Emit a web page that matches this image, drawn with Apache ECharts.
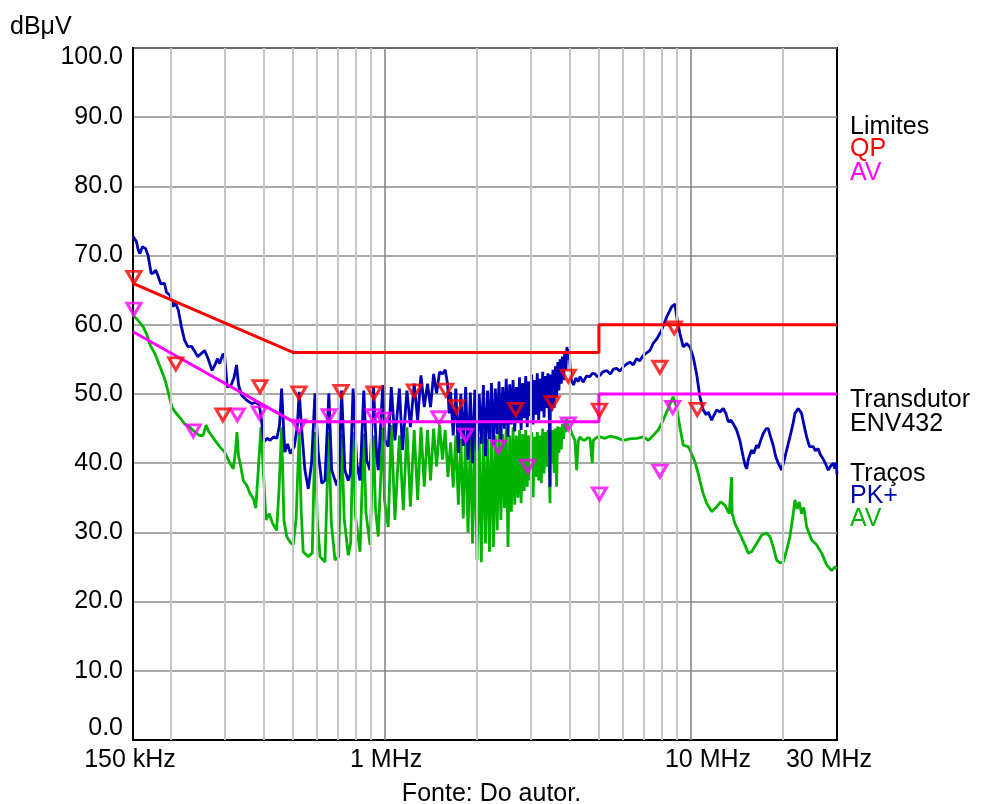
<!DOCTYPE html>
<html>
<head>
<meta charset="utf-8">
<script src="https://cdn.jsdelivr.net/npm/echarts@6/dist/echarts.min.js"></script>
<style>
  html, body { margin: 0; padding: 0; background: #fff; }
  #chart { width: 983px; height: 804px; }
</style>
</head>
<body>
<div id="chart"></div>
<script>
// Conducted emission scan, frequency in MHz, level in dBµV.

const xTickValues = [0.15, 1, 10, 30];
const xTickLabels = ['150 kHz', '1 MHz', '10 MHz', '30 MHz'];
const minorGridFreqs = [0.2, 0.3, 0.4, 0.5, 0.6, 0.7, 0.8, 0.9, 2, 3, 4, 5, 6, 7, 8, 9, 20];
const majorGridFreqs = [1, 10];

// Limit lines
const qpLimit = [[0.15, 66], [0.5, 56], [5, 56], [5, 60], [30, 60]];
const avLimit = [[0.15, 59], [0.5, 46], [5, 46], [5, 50], [30, 50]];

// Final measurement results
const qpMarkers = [
  [0.151, 66.0], [0.207, 53.5], [0.295, 46.1], [0.390, 50.2], [0.523, 49.3],
  [0.718, 49.5], [0.920, 49.3], [1.246, 49.6], [1.578, 49.7], [1.714, 47.3],
  [2.672, 46.9], [3.518, 47.9], [3.970, 51.7], [5.02, 46.8], [7.91, 53.0],
  [8.81, 58.7], [10.48, 46.9]
];
const avMarkers = [
  [0.151, 61.4], [0.236, 43.8], [0.329, 46.1], [0.388, 46.4], [0.523, 44.5],
  [0.656, 46.0], [0.915, 46.0], [0.987, 45.5], [1.500, 45.7], [1.834, 43.2],
  [2.344, 41.5], [2.924, 38.7], [3.970, 44.8], [5.02, 34.7], [7.91, 38.0],
  [8.71, 47.2]
];

// Peak detector trace
const pkTrace = [
  [0.150, 72.8], [0.152, 72.4], [0.154, 72.0], [0.156, 70.8], [0.158, 70.3],
  [0.161, 71.3], [0.163, 71.4], [0.165, 71.0], [0.168, 70.0], [0.172, 67.4],
  [0.175, 67.5], [0.178, 67.9], [0.181, 67.1], [0.185, 65.9], [0.190, 66.0],
  [0.193, 64.7], [0.198, 64.3], [0.203, 62.6], [0.206, 63.3], [0.211, 62.1],
  [0.216, 59.7], [0.221, 57.8], [0.227, 56.8], [0.233, 56.9], [0.239, 56.1],
  [0.244, 55.4], [0.250, 55.8], [0.257, 56.3], [0.264, 55.1], [0.272, 53.4],
  [0.278, 54.2], [0.283, 55.1], [0.288, 54.4], [0.295, 55.8], [0.299, 55.4],
  [0.305, 51.0], [0.314, 51.3], [0.321, 52.4], [0.327, 54.2], [0.332, 51.3],
  [0.340, 49.8], [0.353, 49.1], [0.367, 48.6], [0.377, 48.8], [0.387, 48.5],
  [0.392, 47.2], [0.402, 43.1], [0.412, 43.6], [0.421, 43.3], [0.432, 43.8],
  [0.443, 43.6], [0.452, 45.5], [0.459, 50.8], [0.466, 45.0], [0.470, 41.6],
  [0.480, 42.8], [0.490, 41.4], [0.505, 42.4], [0.517, 45.5], [0.524, 50.3],
  [0.534, 44.8], [0.547, 39.0], [0.561, 36.3], [0.575, 40.0], [0.590, 50.1],
  [0.605, 41.4], [0.621, 37.1], [0.636, 37.5], [0.655, 50.1], [0.669, 39.0],
  [0.695, 36.8], [0.706, 38.0], [0.721, 50.5], [0.739, 39.0], [0.758, 37.5],
  [0.770, 38.5], [0.786, 50.8], [0.808, 40.0], [0.828, 37.5], [0.852, 50.5],
  [0.871, 40.4], [0.893, 39.0], [0.917, 51.0], [0.939, 40.9], [0.950, 39.0],
  [0.983, 51.3], [1.000, 43.3], [1.024, 42.4], [1.048, 51.0], [1.077, 43.3],
  [1.114, 50.8], [1.140, 41.9], [1.179, 50.5], [1.210, 45.2], [1.245, 51.5],
  [1.278, 46.2], [1.310, 52.7], [1.343, 48.1], [1.376, 51.5], [1.408, 48.1],
  [1.441, 52.9], [1.474, 50.1], [1.507, 53.2], [1.540, 52.9], [1.572, 53.5],
  [1.600, 51.5], [1.620, 47.2],
  [1.638, 50.3], [1.670, 44.0], [1.703, 50.8], [1.736, 41.5], [1.769, 50.0],
  [1.801, 42.5], [1.834, 51.0], [1.867, 40.5], [1.900, 50.2], [1.932, 40.0],
  [1.965, 50.6], [1.998, 41.8], [2.031, 50.0], [2.063, 42.8], [2.096, 51.3],
  [2.129, 41.0], [2.162, 50.5], [2.194, 43.5], [2.227, 51.6], [2.260, 42.6],
  [2.293, 50.8], [2.325, 44.2], [2.358, 51.8], [2.391, 43.4], [2.424, 51.0],
  [2.456, 45.0], [2.489, 52.2], [2.522, 43.8], [2.555, 51.4], [2.587, 45.6],
  [2.620, 52.0], [2.653, 44.6], [2.686, 51.0], [2.718, 46.0], [2.751, 52.4],
  [2.784, 44.8], [2.817, 51.6], [2.849, 46.5], [2.882, 52.6], [2.915, 45.2],
  [2.948, 51.8], [2.980, 46.8], [3.013, 52.8], [3.046, 45.6], [3.079, 52.0],
  [3.111, 47.0], [3.144, 53.0], [3.177, 46.2], [3.210, 52.2], [3.242, 47.5],
  [3.275, 53.2], [3.308, 46.6], [3.341, 52.6], [3.373, 48.0], [3.406, 53.0],
  [3.440, 47.0], [3.459, 36.6], [3.472, 52.8], [3.504, 47.5], [3.537, 53.5],
  [3.570, 48.0], [3.603, 54.0], [3.635, 49.5], [3.668, 54.6], [3.700, 50.5],
  [3.734, 55.0], [3.766, 51.5], [3.799, 55.4], [3.832, 52.0], [3.865, 56.0],
  [3.900, 53.5], [3.930, 56.8], [3.960, 55.0], [3.995, 56.5], [4.030, 53.5],
  [4.060, 52.0], [4.130, 51.3], [4.200, 52.3], [4.280, 51.8], [4.335, 52.5],
  [4.444, 51.7], [4.550, 52.6], [4.674, 52.5], [4.760, 53.0], [4.853, 52.9],
  [4.950, 52.5], [5.04, 52.7], [5.15, 53.2], [5.30, 53.4], [5.45, 52.9],
  [5.58, 53.6], [5.71, 53.7], [5.85, 53.3], [6.00, 53.9], [6.15, 54.3],
  [6.31, 54.6], [6.47, 54.2], [6.64, 55.1], [6.80, 54.8], [6.98, 55.6],
  [7.15, 55.9], [7.34, 56.3], [7.52, 57.3], [7.74, 58.0], [8.01, 59.2],
  [8.32, 61.1], [8.64, 62.6], [8.86, 63.0], [9.02, 60.6], [9.20, 58.7],
  [9.43, 56.8], [9.67, 57.3], [9.92, 56.8], [10.17, 55.3], [10.43, 52.9],
  [10.69, 49.6], [10.96, 47.7], [11.20, 47.0], [11.38, 47.4], [11.68, 46.2],
  [11.90, 47.0], [12.13, 47.7], [12.45, 47.4], [12.74, 47.9], [13.00, 47.2],
  [13.23, 46.0], [13.50, 46.2], [13.74, 45.7], [14.09, 44.8], [14.44, 43.3],
  [14.81, 40.9], [15.05, 39.6], [15.20, 39.2], [15.40, 40.6], [15.58, 40.4],
  [15.78, 41.9], [16.00, 41.4], [16.38, 42.6], [16.58, 42.2], [16.90, 43.3],
  [17.22, 44.3], [17.60, 45.0], [17.88, 45.0], [18.20, 43.8], [18.56, 42.6],
  [18.90, 41.0], [19.28, 40.0], [19.78, 39.0], [20.28, 40.9], [21.05, 43.8],
  [21.50, 45.5], [21.86, 47.2], [22.41, 47.9], [22.98, 47.2], [23.40, 45.5],
  [23.87, 43.8], [24.40, 42.4], [25.08, 42.4], [25.50, 41.8], [26.04, 42.1],
  [26.50, 41.2], [27.04, 40.6], [27.60, 39.8], [28.08, 39.0], [28.60, 39.6],
  [29.16, 40.0], [29.50, 39.2], [29.80, 40.1], [30.00, 38.4]
];

// Average detector trace
const avTrace = [
  [0.150, 61.4], [0.151, 61.2], [0.156, 60.6], [0.162, 59.7], [0.166, 58.7],
  [0.171, 57.0], [0.177, 55.8], [0.184, 53.9], [0.191, 52.0], [0.196, 50.1],
  [0.201, 48.1], [0.206, 47.4], [0.214, 46.5], [0.221, 45.7], [0.230, 45.2],
  [0.239, 44.5], [0.248, 44.0], [0.254, 44.0], [0.260, 45.5], [0.265, 44.6],
  [0.268, 44.3], [0.278, 43.3], [0.288, 42.4], [0.299, 41.6], [0.311, 40.0],
  [0.319, 39.2], [0.324, 41.5], [0.328, 44.5], [0.332, 41.0], [0.336, 40.0],
  [0.344, 37.5], [0.353, 36.8], [0.362, 35.6], [0.371, 34.9], [0.378, 33.5],
  [0.385, 39.0], [0.393, 45.2], [0.400, 39.0], [0.408, 31.8], [0.418, 32.7],
  [0.429, 31.3], [0.442, 30.3], [0.450, 36.0], [0.459, 45.2], [0.467, 31.8],
  [0.477, 29.4], [0.489, 28.6], [0.501, 28.2], [0.512, 32.0], [0.524, 44.5],
  [0.532, 33.0], [0.540, 27.2], [0.561, 26.5], [0.578, 27.0], [0.590, 44.5],
  [0.600, 32.0], [0.613, 26.5], [0.636, 25.7], [0.655, 44.5], [0.667, 31.5],
  [0.686, 26.0], [0.705, 26.5], [0.721, 44.3], [0.735, 32.0], [0.758, 26.7],
  [0.772, 28.5], [0.786, 44.5], [0.800, 32.5], [0.828, 27.2], [0.852, 44.3],
  [0.866, 32.8], [0.893, 28.2], [0.917, 44.0], [0.930, 33.5], [0.950, 29.4],
  [0.983, 45.2], [0.996, 34.6], [1.024, 30.8], [1.048, 45.5], [1.077, 31.8],
  [1.114, 44.0], [1.147, 33.2], [1.179, 45.2], [1.210, 33.7], [1.245, 44.8],
  [1.278, 34.7], [1.310, 45.2], [1.343, 36.6], [1.376, 44.8], [1.408, 37.5],
  [1.441, 45.0], [1.474, 39.5], [1.507, 45.5], [1.540, 40.5], [1.572, 44.8],
  [1.605, 38.0],
  [1.638, 43.0], [1.670, 36.5], [1.703, 44.0], [1.736, 34.0], [1.769, 43.5],
  [1.801, 32.0], [1.834, 44.2], [1.867, 30.0], [1.900, 43.6], [1.932, 28.4],
  [1.965, 44.5], [1.998, 26.0], [2.031, 43.8], [2.063, 25.7], [2.096, 44.6],
  [2.129, 28.4], [2.162, 43.5], [2.194, 27.2], [2.227, 45.0], [2.260, 27.9],
  [2.293, 44.0], [2.325, 30.3], [2.358, 45.2], [2.391, 31.8], [2.424, 44.2],
  [2.456, 33.5], [2.489, 45.0], [2.522, 27.9], [2.555, 44.0], [2.587, 33.0],
  [2.620, 45.2], [2.653, 34.0], [2.686, 44.0], [2.718, 35.0], [2.751, 44.8],
  [2.784, 34.2], [2.817, 44.2], [2.849, 36.0], [2.882, 44.8], [2.915, 36.6],
  [2.948, 44.0], [2.980, 37.5], [3.013, 44.5], [3.046, 35.1], [3.079, 43.8],
  [3.111, 38.0], [3.144, 44.5], [3.177, 37.5], [3.210, 44.0], [3.242, 37.1],
  [3.275, 45.0], [3.308, 38.5], [3.341, 44.5], [3.373, 39.5], [3.406, 44.8],
  [3.440, 40.5], [3.459, 34.2], [3.472, 44.6], [3.504, 40.0], [3.537, 44.8],
  [3.570, 38.6], [3.603, 45.0], [3.635, 36.6], [3.668, 45.3], [3.700, 41.5],
  [3.734, 45.2], [3.766, 42.0], [3.799, 45.7], [3.832, 43.5], [3.865, 45.6],
  [3.900, 44.5], [3.920, 46.4], [4.000, 45.5], [4.072, 44.3], [4.175, 43.3],
  [4.228, 39.0], [4.280, 43.2], [4.335, 43.8], [4.420, 43.4], [4.501, 43.3],
  [4.590, 43.7], [4.674, 43.6], [4.755, 40.0], [4.790, 43.3], [4.853, 43.3],
  [4.950, 43.8], [5.04, 43.8], [5.23, 43.6], [5.43, 43.9], [5.70, 43.7],
  [6.00, 43.3], [6.30, 43.5], [6.64, 43.6], [7.00, 43.8], [7.25, 43.3],
  [7.52, 44.0], [7.81, 44.8], [8.11, 46.2], [8.42, 47.9], [8.74, 49.6],
  [8.97, 48.1], [9.20, 45.2], [9.43, 42.6], [9.79, 42.4], [9.92, 41.9],
  [10.30, 40.2], [10.56, 38.5], [10.69, 37.5], [10.96, 35.6], [11.25, 34.2],
  [11.68, 33.0], [12.13, 33.7], [12.50, 34.4], [12.91, 33.9], [13.33, 32.7],
  [13.52, 32.6], [13.57, 38.0], [13.62, 32.8], [13.91, 31.3], [14.44, 29.8],
  [15.00, 28.2], [15.38, 27.0], [15.78, 27.2], [16.38, 28.4], [17.01, 29.6],
  [17.57, 29.9], [18.11, 29.4], [18.56, 27.9], [19.05, 26.0], [19.53, 25.6],
  [20.02, 25.7], [20.53, 27.4], [21.05, 29.4], [21.58, 32.7], [21.86, 34.7],
  [22.23, 33.4], [22.58, 34.4], [22.98, 32.7], [23.38, 33.6], [23.87, 30.8],
  [24.79, 28.9], [25.74, 28.2], [26.72, 27.0], [27.75, 25.3], [28.81, 24.5],
  [29.54, 25.0], [30.00, 24.8]
];

const FONT = '"Liberation Sans", Arial, Helvetica, sans-serif';
const FS = 25;
const C_QP = '#ff0000';
const C_AVL = '#ff00ff';
const C_PK = '#0000b4';
const C_AV = '#00b400';

const chart = echarts.init(document.getElementById('chart'), null, { renderer: 'canvas' });

function tickIndex(v) {
  for (let i = 0; i < xTickValues.length; i++) {
    if (Math.abs(Math.log10(v) - Math.log10(xTickValues[i])) < 0.005) return i;
  }
  return -1;
}

const labelBase = { fontSize: FS, fontFamily: FONT, color: '#000' };
// downward-pointing triangle, tip at the data value
const triangle = 'path://M0,0 L12,0 L6,10 Z';

function markerSeries(name, data, color, z) {
  return {
    name, type: 'scatter', data, z,
    symbol: triangle, symbolSize: [14, 12], symbolOffset: [0, -6],
    itemStyle: { color: 'rgba(255,255,255,0)', borderColor: color, borderWidth: 3 },
    silent: true
  };
}

const option = {
  animation: false,
  backgroundColor: '#fff',
  title: {
    text: 'Fonte: Do autor.',
    left: 'center', top: 777,
    textStyle: { fontSize: FS, fontWeight: 'normal', fontFamily: FONT, color: '#000' }
  },
  grid: { left: 133, right: 146, top: 48, bottom: 64, show: true, borderColor: '#000', borderWidth: 2, backgroundColor: '#fff' },
  xAxis: {
    type: 'log', logBase: 10, min: 0.15, max: 30,
    axisLine: { show: true, lineStyle: { color: '#000', width: 2 } },
    axisTick: { show: false },
    splitLine: { show: false },
    minorTick: { show: false }, minorSplitLine: { show: false },
    axisLabel: {
      show: true, showMinLabel: true, showMaxLabel: true, margin: 8,
      ...labelBase,
      formatter: function (v) {
        const i = tickIndex(v);
        if (i < 0) return '';
        return '{s' + i + '|' + xTickLabels[i] + '}';
      },
      rich: {
        s0: { ...labelBase, padding: [0, 6, 0, 0] },
        s1: { ...labelBase, padding: [0, 0, 0, 2] },
        s2: { ...labelBase, padding: [0, 0, 0, 34] },
        s3: { ...labelBase, padding: [0, 16, 0, 0] }
      }
    }
  },
  yAxis: {
    type: 'value', min: 0, max: 100, interval: 10,
    axisLine: { show: true, lineStyle: { color: '#000', width: 2 } },
    axisTick: { show: false },
    splitLine: { show: true, lineStyle: { color: '#8c8c8c', width: 1.5 } },
    axisLabel: {
      ...labelBase, margin: 10,
      formatter: function (v) {
        const t = v.toFixed(1);
        if (v === 100) return '{top|' + t + '}';
        if (v === 0) return '{bot|' + t + '}';
        return t;
      },
      rich: {
        top: { ...labelBase, padding: [18, 0, 0, 0] },
        bot: { ...labelBase, padding: [0, 0, 24, 0] }
      }
    }
  },
  graphic: [
    { type: 'text', left: 10, top: 15, style: { text: 'dBμV', fill: '#000', font: FS + 'px ' + FONT } },
    { type: 'text', left: 850, top: 115, style: { text: 'Limites', fill: '#000', font: FS + 'px ' + FONT } },
    { type: 'text', left: 850, top: 137, style: { text: 'QP', fill: C_QP, font: FS + 'px ' + FONT } },
    { type: 'text', left: 850, top: 161, style: { text: 'AV', fill: C_AVL, font: FS + 'px ' + FONT } },
    { type: 'text', left: 850, top: 388, style: { text: 'Transdutor', fill: '#000', font: FS + 'px ' + FONT } },
    { type: 'text', left: 850, top: 412, style: { text: 'ENV432', fill: '#000', font: FS + 'px ' + FONT } },
    { type: 'text', left: 850, top: 462, style: { text: 'Traços', fill: '#000', font: FS + 'px ' + FONT } },
    { type: 'text', left: 850, top: 484, style: { text: 'PK+', fill: C_PK, font: FS + 'px ' + FONT } },
    { type: 'text', left: 850, top: 507, style: { text: 'AV', fill: C_AV, font: FS + 'px ' + FONT } }
  ],
  series: [
    {
      name: 'frequency grid', type: 'line', data: [], z: 1, silent: true,
      markLine: {
        silent: true, symbol: ['none', 'none'], label: { show: false },
        animation: false,
        data: minorGridFreqs.map(f => ({ xAxis: f, lineStyle: { color: '#c6c6c6', width: 2, type: 'solid' } }))
          .concat(majorGridFreqs.map(f => ({ xAxis: f, lineStyle: { color: '#808080', width: 1.5, type: 'solid' } })))
      }
    },
    {
      name: 'AV', type: 'line', data: avTrace, z: 3, showSymbol: false, silent: true,
      lineStyle: { color: C_AV, width: 2.8 }
    },
    {
      name: 'PK+', type: 'line', data: pkTrace, z: 4, showSymbol: false, silent: true,
      lineStyle: { color: C_PK, width: 2.8 }
    },
    {
      name: 'AV limit', type: 'line', data: avLimit, z: 5, showSymbol: false, silent: true,
      lineStyle: { color: C_AVL, width: 3 }
    },
    {
      name: 'QP limit', type: 'line', data: qpLimit, z: 6, showSymbol: false, silent: true,
      lineStyle: { color: C_QP, width: 3 }
    },
    markerSeries('AV results', avMarkers, C_AVL, 7),
    markerSeries('QP results', qpMarkers, C_QP, 8)
  ]
};

chart.setOption(option);
</script>
</body>
</html>
